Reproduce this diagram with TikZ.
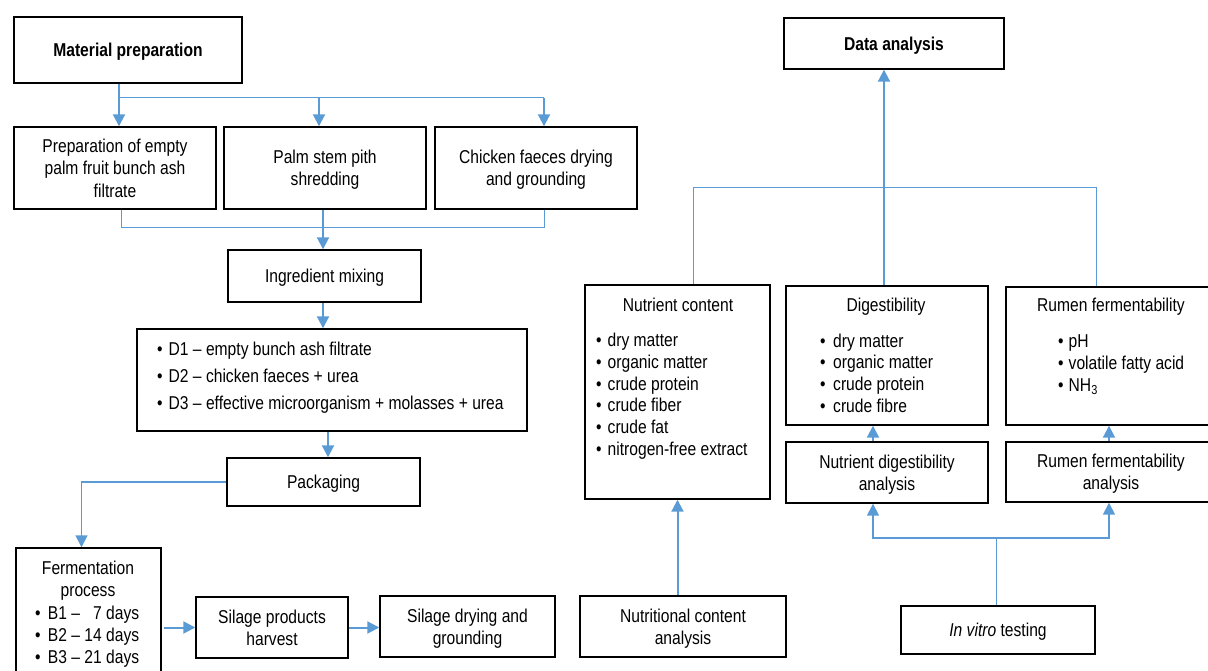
\documentclass[tikz,border=0pt]{standalone}
\usepackage{fontspec}
\setmainfont[FakeStretch=0.84]{Liberation Sans}
\usetikzlibrary{positioning,arrows.meta}
\definecolor{flowblue}{HTML}{5B9BD5}
\newcommand{\bitem}[2][11.5pt]{\makebox[#1][l]{\textbullet}#2}

\begin{document}
\begin{tikzpicture}[x=1pt, y=-1pt, font=\fontsize{18.6}{22.3}\selectfont]
    \tikzset{box/.style 2 args={draw, line width=1.4pt, inner sep=0pt, align=center,
        text depth=0pt, minimum width=#1, minimum height=#2},
      myarrow/.style={-{Triangle[length=12pt, width=12pt]}, line width=2pt, draw=flowblue},
      myline/.style={line width=1pt, draw=flowblue}}
    \useasboundingbox (0,0) rectangle (1208,671);

    % left column: preparation of the silage
    \draw node[box={228}{66}] at (128,50) (matprep) {\bfseries Material preparation};
    \draw node[box={202}{82}] at (115,168) (filtrate) {Preparation of empty\\palm fruit bunch ash\\filtrate};
    \draw node[box={202}{82}] at (325,168) (pith) {Palm stem pith\\shredding};
    \draw node[box={202}{82}] at (536,168) (faeces) {Chicken faeces drying\\and grounding};
    \draw node[box={193}{52}] at (324.5,276) (mixing) {Ingredient mixing};
    \draw node[box={390}{102}] at (332,380) (treat) {};
    \draw node[box={193}{48}] at (323.5,482) (packing) {Packaging};
    \draw node[box={145}{142}] at (88.5,619) (ferment) {};
    \draw node[box={152}{61}] at (272,627.5) (harvest) {Silage products\\harvest};
    \draw node[box={175}{61}] at (467.5,626.5) (drying) {Silage drying and\\grounding};

    \foreach \txt [count=\i] in {D1 -- empty bunch ash filtrate, D2 -- chicken faeces + urea,
        D3 -- effective microorganism + molasses + urea}
      \node[anchor=base west, inner sep=0pt] (treat\i) at (157,{355+27.3*(\i-1)}) {\bitem{\txt}};
    \node[align=center, inner sep=0pt] (fermtitle) at (88,580.5) {Fermentation\\process};
    \foreach \txt [count=\i] in {B1 -- \phantom{1}7 days, B2 -- 14 days, B3 -- 21 days}
      \node[anchor=base west, inner sep=0pt] (ferm\i) at (35,{619.5+22*(\i-1)}) {\bitem[12.8pt]{\txt}};

    % right column: analysis
    \draw node[box={220}{51}] at (894,43.5) (dataan) {\bfseries Data analysis};
    \draw node[box={185}{214}] at (677.5,392) (nutcont) {};
    \draw node[box={202}{139}] at (887,355.5) (digest) {};
    \draw node[box={210}{138}] at (1111,356) (rumen) {};
    \draw node[box={202}{61}] at (887,472.5) (digan) {Nutrient digestibility\\analysis};
    \draw node[box={210}{60}] at (1111,472) (rumenan) {Rumen fermentability\\analysis};
    \draw node[box={206}{61}] at (683,626.5) (nutan) {Nutritional content\\analysis};
    \draw node[box={194}{48}] at (998,630) (invitro) {\textit{In vitro} testing};

    \node[inner sep=0pt] (nctitle) at (678,305) {Nutrient content};
    \foreach \txt [count=\i] in {dry matter, organic matter, crude protein, crude fiber,
        crude fat, nitrogen-free extract}
      \node[anchor=base west, inner sep=0pt] (nc\i) at (596,{346.5+21.8*(\i-1)}) {\bitem{\txt}};
    \node[inner sep=0pt] (dgtitle) at (886,306.7) {Digestibility};
    \foreach \txt [count=\i] in {dry matter, organic matter, crude protein, crude fibre}
      \node[anchor=base west, inner sep=0pt] (dg\i) at (820,{347+21.8*(\i-1)}) {\bitem[13pt]{\txt}};
    \node[inner sep=0pt] (rftitle) at (1111,306.7) {Rumen fermentability};
    \foreach \txt [count=\i] in {pH, volatile fatty acid, NH\textsubscript{3}}
      \node[anchor=base west, inner sep=0pt] (rf\i) at (1058,{347.5+21.8*(\i-1)}) {\bitem[10.5pt]{\txt}};

    % connectors, left
    \coordinate (split) at (119,98);
    \coordinate (splitb) at (319,98);
    \coordinate (splitc) at (544,98);
    \coordinate (joina) at (121,228);
    \coordinate (joinb) at (323,228);
    \coordinate (joinc) at (544,228);
    \coordinate (drop) at (328,444);
    \coordinate (bend) at (81.5,483);

    \draw[myarrow] (matprep.south -| split) -- (filtrate.north -| split);
    \draw[myline] (split) -- (splitc);
    \draw[myarrow] (splitb) -- (pith.north -| splitb);
    \draw[myarrow] (splitc) -- (faeces.north -| splitc);
    \draw[myline] (filtrate.south -| joina) -- (joina) -- (joinc) -- (faeces.south -| joinc);
    \draw[myarrow] (pith.south -| joinb) -- (mixing.north -| joinb);
    \draw[myarrow] (mixing.south -| joinb) -- (treat.north -| joinb);
    \draw[myarrow] (treat.south -| drop) -- (packing.north -| drop);
    \draw[myarrow, line width=1.5pt] (packing.west) -| (ferment.north -| bend);
    \draw[myarrow] ([xshift=2pt]ferment.east |- harvest.west) -- (harvest.west);
    \draw[myarrow] (harvest.east) -- (drying.west |- harvest.east);

    % connectors, right
    \coordinate (hub) at (884,188);
    \coordinate (huba) at (693.5,188);
    \coordinate (hubc) at (1096,188);
    \coordinate (fork) at (996,538);
    \coordinate (forka) at (873,538);
    \coordinate (forkc) at (1109,538);

    \draw[myline] (nutcont.north -| huba) -- (huba) -- (hubc) -- (rumen.north -| hubc);
    \draw[myarrow] (digest.north -| hub) -- (dataan.south -| hub);
    \draw[myarrow] (nutan.north -| nutcont.south) -- (nutcont.south);
    \draw[myline] (invitro.north -| fork) -- (fork);
    \draw[myarrow, line width=1.5pt] (fork) -| (digan.south -| forka);
    \draw[myarrow, line width=1.5pt] (fork) -| (rumenan.south -| forkc);
    \draw[myarrow] (digan.north -| forka) -- (digest.south -| forka);
    \draw[myarrow] (rumenan.north -| forkc) -- (rumen.south -| forkc);
  \end{tikzpicture}
\end{document}
